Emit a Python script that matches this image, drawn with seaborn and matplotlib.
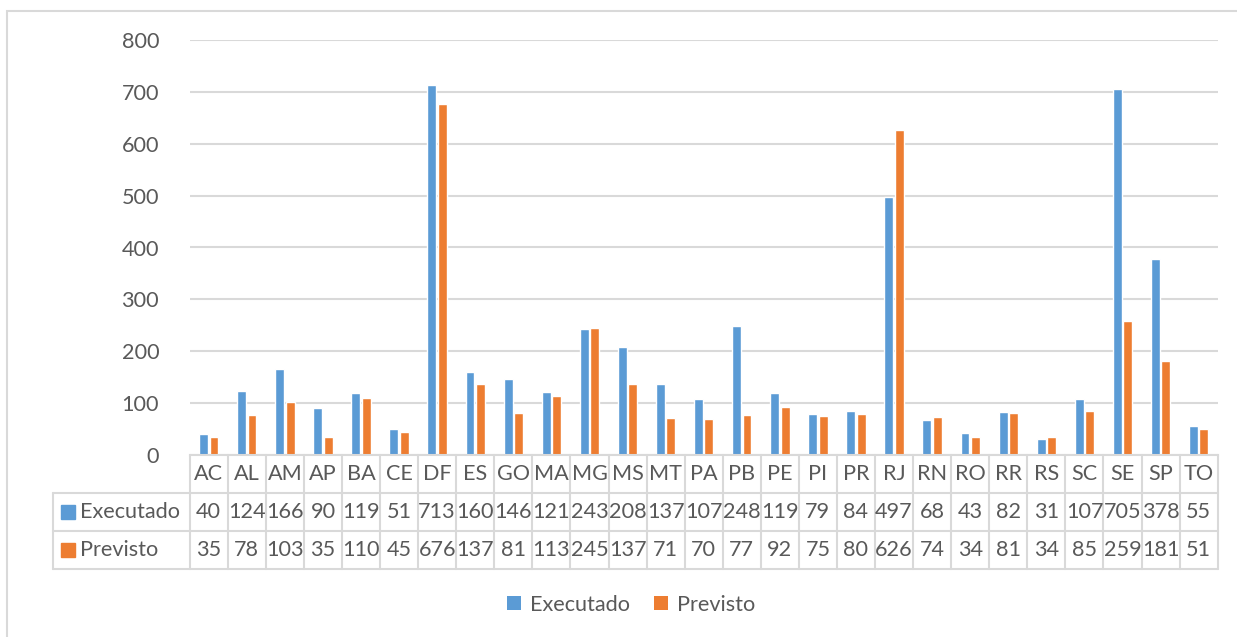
import matplotlib
matplotlib.use("Agg")
import matplotlib.pyplot as plt
from matplotlib.lines import Line2D
from matplotlib.patches import Rectangle, Patch
import matplotlib.transforms as mtransforms
import pandas as pd
import seaborn as sns

# Data
estados = ["AC", "AL", "AM", "AP", "BA", "CE", "DF", "ES", "GO", "MA", "MG", "MS", "MT",
           "PA", "PB", "PE", "PI", "PR", "RJ", "RN", "RO", "RR", "RS", "SC", "SE", "SP", "TO"]
executado = [40, 124, 166, 90, 119, 51, 713, 160, 146, 121, 243, 208, 137,
             107, 248, 119, 79, 84, 497, 68, 43, 82, 31, 107, 705, 378, 55]
previsto = [35, 78, 103, 35, 110, 45, 676, 137, 81, 113, 245, 137, 71,
            70, 77, 92, 75, 80, 626, 74, 34, 81, 34, 85, 259, 181, 51]
series = ["Executado", "Previsto"]
yticks = [0, 100, 200, 300, 400, 500, 600, 700, 800]

BLUE = "#5B9BD5"
ORANGE = "#ED7D31"
TEXT = "#595959"
GRID = "#D9D9D9"
FS = 15.6

sns.set_theme(style="white")
plt.rcParams["font.family"] = ["Lato", "DejaVu Sans"]

W, H = 1237, 637
fig = plt.figure(figsize=(W / 100, H / 100), dpi=100)


def fx(px):
    return px / W


def fy(py):
    return 1 - py / H


left, right, top, bottom = 189.7, 1217.7, 40, 455
ax = fig.add_axes([fx(left), fy(bottom), fx(right - left), fy(top) - fy(bottom)])

df = pd.DataFrame({
    "UF": estados * 2,
    "valor": executado + previsto,
    "serie": [series[0]] * len(estados) + [series[1]] * len(estados),
})
sns.barplot(data=df, x="UF", y="valor", hue="serie", palette=[BLUE, ORANGE],
            width=0.55, gap=0.15, legend=False, ax=ax, saturation=1)

ax.set_xlim(-0.5, len(estados) - 0.5)
ax.set_ylim(0, 800)
ax.set_yticks(yticks)
ax.set_yticklabels([str(t) for t in yticks], fontsize=FS, color=TEXT)
ax.tick_params(axis="y", length=0, pad=22)
ax.set_xticks([])
ax.set_xlabel("")
ax.set_ylabel("")
ax.yaxis.grid(True, color=GRID, linewidth=1.5)
ax.set_axisbelow(True)
for s in ["top", "right", "left"]:
    ax.spines[s].set_visible(False)
ax.spines["bottom"].set_color(GRID)
ax.spines["bottom"].set_linewidth(1.5)

# Data table below the axis
tr = mtransforms.blended_transform_factory(ax.transData, fig.transFigure)
row_y = [455, 492.5, 531, 569]
lw = 1.5
for yy in row_y[1:]:
    fig.add_artist(Line2D([fx(52.7), fx(right)], [fy(yy), fy(yy)], color=GRID, lw=lw))
fig.add_artist(Line2D([fx(52.7), fx(52.7)], [fy(row_y[1]), fy(row_y[3])], color=GRID, lw=lw))
for k in range(len(estados) + 1):
    xb = k - 0.5
    ax.add_artist(Line2D([xb, xb], [fy(row_y[0]), fy(row_y[3])], color=GRID, lw=lw,
                         transform=tr, clip_on=False))

for i, uf in enumerate(estados):
    ax.text(i, fy((row_y[0] + row_y[1]) / 2), uf, transform=tr, ha="center", va="center",
            fontsize=FS, color=TEXT, clip_on=False)
    ax.text(i, fy((row_y[1] + row_y[2]) / 2), str(executado[i]), transform=tr, ha="center",
            va="center", fontsize=FS, color=TEXT, clip_on=False)
    ax.text(i, fy((row_y[2] + row_y[3]) / 2), str(previsto[i]), transform=tr, ha="center",
            va="center", fontsize=FS, color=TEXT, clip_on=False)

for j, (name, col) in enumerate(zip(series, [BLUE, ORANGE])):
    yc = (row_y[j + 1] + row_y[j + 2]) / 2
    fig.add_artist(Rectangle((fx(61), fy(yc + 7)), fx(14), fy(0) - fy(14), color=col))
    fig.text(fx(80), fy(yc), name, ha="left", va="center", fontsize=FS, color=TEXT)

# Legend
handles = [Patch(facecolor=BLUE, edgecolor="none"), Patch(facecolor=ORANGE, edgecolor="none")]
fig.legend(handles, series, loc="center", bbox_to_anchor=(fx(631.5), fy(605)), ncol=2,
           frameon=False, fontsize=FS, labelcolor=TEXT, handlelength=0.62, handleheight=0.62,
           handletextpad=0.45, columnspacing=1.1)

# Chart area border
fig.add_artist(Rectangle((fx(7.5), -0.05), 1.1, fy(11) + 0.05, fill=False, edgecolor=GRID, lw=1.5))

fig.savefig("out.png", dpi=100)
